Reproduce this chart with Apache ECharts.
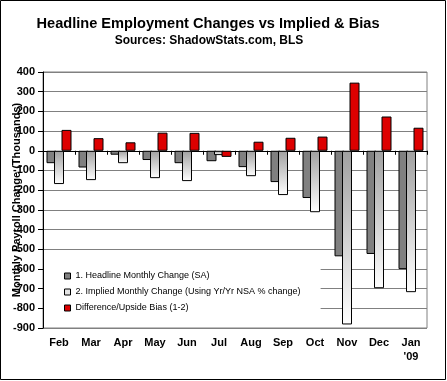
<!DOCTYPE html>
<html><head><meta charset="utf-8">
<script src="https://cdn.jsdelivr.net/npm/echarts@6/dist/echarts.min.js"></script>
<style>html,body{margin:0;padding:0;background:#fff}#c{width:447px;height:381px}</style>
</head><body><div id="c"></div>
<script>
const categories = ['Feb','Mar','Apr','May','Jun','Jul','Aug','Sep','Oct','Nov','Dec',"Jan\n'09"];
const headline = [-63, -85, -20, -47, -63, -53, -83, -159, -240, -536, -524, -601];
const implied  = [-169, -149, -63, -139, -154, -22, -129, -225, -312, -882, -698, -718];
const bias     = [106, 64, 43, 92, 91, -31, 46, 66, 72, 346, 174, 117];
const seriesNames = ['1. Headline Monthly Change (SA)', '2. Implied Monthly Change (Using Yr/Yr NSA % change)', 'Difference/Upside Bias (1-2)'];
const yMin = -900, yMax = 400, yStep = 100;
const titleText = 'Headline Employment Changes vs Implied & Bias';
const subtitleText = 'Sources: ShadowStats.com, BLS';
const yName = 'Monthly Payroll Change (Thousands)';

const chart = echarts.init(document.getElementById('c'), null, {renderer: 'canvas'});
const boldLbl = {color: '#000', fontWeight: 'bold', fontSize: 11, fontFamily: 'Arial, "Liberation Sans", sans-serif'};
const legendFont = 'Arial, "Liberation Sans", sans-serif';

chart.setOption({
  animation: false,
  backgroundColor: '#fff',
  graphic: [
    {type: 'rect', shape: {x: 0.5, y: 0.5, width: 445, height: 379}, style: {fill: 'none', stroke: '#000', lineWidth: 1}, z: 100},
    {type: 'text', x: 208, y: 24, style: {text: titleText, align: 'center', verticalAlign: 'middle', font: 'bold 14.6px Arial, "Liberation Sans", sans-serif', fill: '#000'}},
    {type: 'text', x: 209, y: 41, style: {text: subtitleText, align: 'center', verticalAlign: 'middle', font: 'bold 12px Arial, "Liberation Sans", sans-serif', fill: '#000'}}
  ],
  grid: {left: 43, right: 20, top: 72, bottom: 53, show: true, borderColor: '#808080', borderWidth: 1, containLabel: false, outerBoundsMode: 'none'},
  legend: {
    orient: 'vertical', left: 44, top: 268,
    padding: [2, 20, 12, 20],
    backgroundColor: '#fff',
    itemWidth: 6, itemHeight: 6, itemGap: 4,
    icon: 'rect',
    textStyle: {fontSize: 9, lineHeight: 12, color: '#000', fontFamily: legendFont},
    data: [
      {name: seriesNames[0], itemStyle: {color: '#808080', borderColor: '#000', borderWidth: 1}},
      {name: seriesNames[1], itemStyle: {color: '#e4e4e4', borderColor: '#000', borderWidth: 1}},
      {name: seriesNames[2], itemStyle: {color: '#dd0000', borderColor: '#000', borderWidth: 1}}
    ]
  },
  xAxis: [
    {type: 'category', data: categories, position: 'bottom',
     axisLine: {show: false, onZero: false}, axisTick: {show: false},
     axisLabel: Object.assign({margin: 8, lineHeight: 14, interval: 0}, boldLbl),
     splitLine: {show: false}},
    {type: 'category', data: categories, position: 'top',
     axisLine: {show: true, onZero: true, lineStyle: {color: '#000', width: 1}},
     axisTick: {show: true, inside: true, length: 4, lineStyle: {color: '#000'}},
     axisLabel: {show: false}, splitLine: {show: false}}
  ],
  yAxis: {
    type: 'value', min: yMin, max: yMax, interval: yStep,
    name: yName, nameLocation: 'middle', nameGap: 21, nameRotate: 90, nameMoveOverlap: false,
    nameTextStyle: boldLbl,
    axisLine: {show: true, lineStyle: {color: '#000', width: 1}},
    axisTick: {show: true, length: 5, lineStyle: {color: '#000'}},
    axisLabel: Object.assign({margin: 8}, boldLbl),
    splitLine: {show: true, lineStyle: {color: '#808080', width: 1}}
  },
  series: [
    {name: seriesNames[0], type: 'bar', data: headline, barWidth: 10, barGap: '-25%',
     itemStyle: {color: '#808080', borderColor: '#000', borderWidth: 1}},
    {name: seriesNames[1], type: 'bar', data: implied, barWidth: 10, barGap: '-25%',
     itemStyle: {color: new echarts.graphic.LinearGradient(0, 0, 0, 1, [{offset: 0, color: '#a0a0a0'}, {offset: 1, color: '#ffffff'}]), borderColor: '#000', borderWidth: 1}},
    {name: seriesNames[2], type: 'bar', data: bias, barWidth: 10, barGap: '-25%',
     itemStyle: {color: '#dd0000', borderColor: '#000', borderWidth: 1}}
  ]
});
</script></body></html>
